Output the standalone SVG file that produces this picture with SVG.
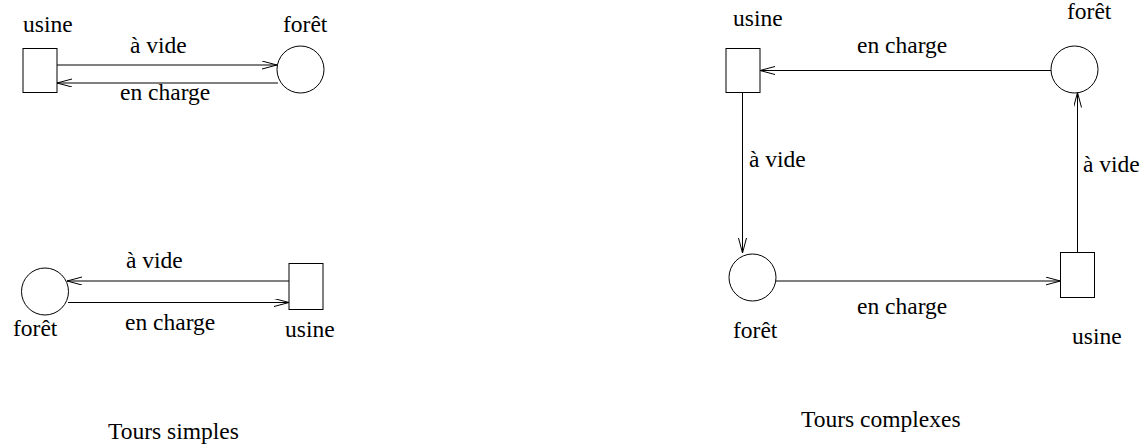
<svg xmlns="http://www.w3.org/2000/svg" width="1144" height="445" viewBox="0 0 1144 445">
<style>
text{font-family:"Liberation Serif","Times New Roman",serif;font-size:23.5px;fill:#000}
.n{fill:#fff;stroke:#000;stroke-width:1}
.c{stroke:#000;stroke-width:1;fill:none}
</style>
<defs>
<marker id="a" markerUnits="userSpaceOnUse" markerWidth="18" markerHeight="10" refX="15" refY="4" orient="auto">
<path d="M0,0 L15,4 L0,8" fill="none" stroke="#000" stroke-width="1"/>
</marker>
</defs>
<rect width="1144" height="445" fill="#fff"/>
<g id="connectors">
<line class="c" x1="57" y1="65" x2="277" y2="65" marker-end="url(#a)"/>
<line class="c" x1="278" y1="83" x2="57" y2="83" marker-end="url(#a)"/>
<line class="c" x1="289" y1="281" x2="67" y2="281" marker-end="url(#a)"/>
<line class="c" x1="68" y1="302.5" x2="289" y2="302.5" marker-end="url(#a)"/>
<line class="c" x1="1051" y1="70.5" x2="760" y2="70.5" marker-end="url(#a)"/>
<line class="c" x1="742.5" y1="93" x2="742.5" y2="253" marker-end="url(#a)"/>
<line class="c" x1="776" y1="281" x2="1060.5" y2="281" marker-end="url(#a)"/>
<line class="c" x1="1077.5" y1="252.5" x2="1077.5" y2="92.5" marker-end="url(#a)"/>
</g>
<g id="labels">
<text x="130" y="53">à vide</text>
<text x="120" y="100">en charge</text>
<text x="126" y="268">à vide</text>
<text x="125" y="330">en charge</text>
<text x="857" y="53">en charge</text>
<text x="749" y="167">à vide</text>
<text x="1083" y="171.5">à vide</text>
<text x="857" y="314">en charge</text>
<text x="108" y="439">Tours simples</text>
<text x="801" y="427">Tours complexes</text>
</g>
<g id="usine1"><rect class="n" x="23" y="48.5" width="34" height="44"/><text x="23" y="32">usine</text></g>
<g id="foret1"><circle class="n" cx="300.5" cy="69.5" r="23.5"/><text x="283" y="32">forêt</text></g>
<g id="foret2"><circle class="n" cx="45" cy="291.5" r="23.5"/><text x="13" y="336">forêt</text></g>
<g id="usine2"><rect class="n" x="289" y="263.5" width="34" height="46"/><text x="285" y="337">usine</text></g>
<g id="usine3"><rect class="n" x="726" y="48.5" width="34" height="44"/><text x="733" y="26">usine</text></g>
<g id="foret3"><circle class="n" cx="1074.5" cy="69.5" r="23.5"/><text x="1067" y="19">forêt</text></g>
<g id="foret4"><circle class="n" cx="752.5" cy="277.5" r="23.5"/><text x="733" y="338">forêt</text></g>
<g id="usine4"><rect class="n" x="1060.5" y="252.5" width="34" height="45"/><text x="1072" y="344">usine</text></g>
</svg>
